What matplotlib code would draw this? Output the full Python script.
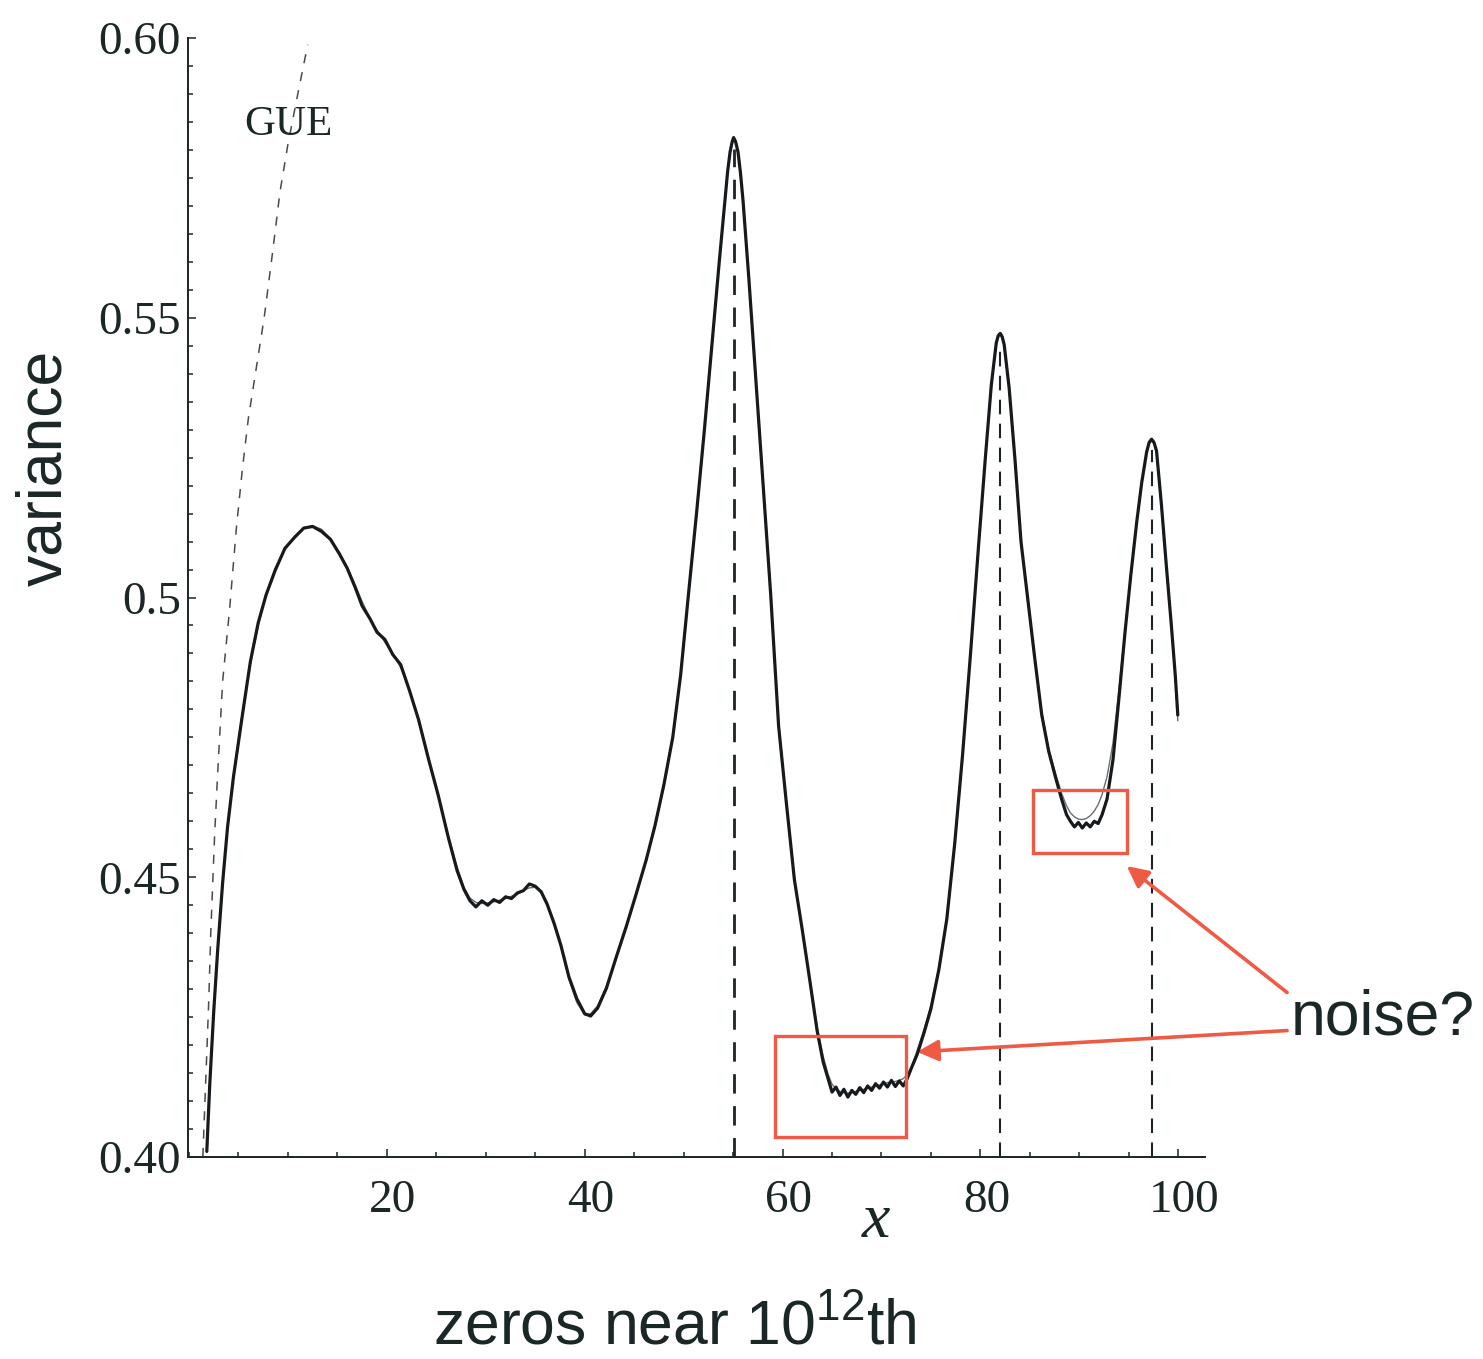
import matplotlib
matplotlib.use("Agg")

import matplotlib.pyplot as plt
import matplotlib.transforms as mtransforms
from matplotlib.patches import Rectangle
from matplotlib.ticker import MultipleLocator, FixedLocator, FixedFormatter
import numpy as np

# ------------------------------------------------------------
# DATA
# ------------------------------------------------------------
x_zeros = [
    1.8, 2.1, 2.5, 2.9, 3.4, 3.9, 4.5, 5.4, 6.2, 7.0,
    7.8, 8.7, 9.7, 10.7, 11.6, 12.5, 13.4, 14.3, 15.2, 16.0,
    16.8, 17.5, 18.3, 19.0, 19.8, 20.6, 21.4, 22.3, 23.2, 24.2,
    25.2, 26.2, 27.1, 27.8, 28.4, 29.0, 29.6, 30.2, 30.8, 31.4,
    32.0, 32.6, 33.2, 33.8, 34.4, 35.0, 35.6, 36.2, 36.9, 37.6,
    38.4, 39.2, 40.0, 40.6, 41.3, 42.2, 43.2, 44.2, 45.2, 46.2,
    47.1, 48.0, 48.9, 49.7, 50.5, 51.3, 52.1, 52.9, 53.6, 54.2,
    54.45, 54.7, 54.9, 55.05, 55.25, 55.5, 55.75, 56.0, 56.6, 57.3,
    58.0, 58.8, 59.6, 60.4,
    61.2, 62.0, 62.8, 63.5, 64.1, 64.6, 65.0, 65.4, 65.8, 66.2,
    66.6, 67.0, 67.4, 67.8, 68.2, 68.6, 69.0, 69.4, 69.8, 70.2,
    70.6, 71.0, 71.4, 71.8, 72.2, 72.6, 73.0, 73.6, 74.3, 75.0,
    75.8, 76.6, 77.4, 78.2, 79.0, 79.8, 80.5, 81.1, 81.6, 81.8,
    82.0, 82.2, 82.4, 82.9, 83.5, 84.1, 84.8, 85.5, 86.2, 86.9,
    87.6, 88.2,
    88.7, 89.1, 89.5, 89.9, 90.3, 90.7, 91.1, 91.5, 91.9, 92.3,
    92.8, 93.4, 94.0, 94.6, 95.2, 95.8, 96.3, 96.8, 97.05, 97.3,
    97.55, 97.8, 98.3, 98.8, 99.3, 99.7, 99.95,
]

# measured variance (noisy)
var_data = [
    0.4010, 0.4130, 0.4260, 0.4370, 0.4490, 0.4590, 0.4680, 0.4790, 0.4885, 0.4955,
    0.5005, 0.5048, 0.5088, 0.5108, 0.5124, 0.5127, 0.5118, 0.5104, 0.5078, 0.5052,
    0.5018, 0.4985, 0.4962, 0.4938, 0.4925, 0.4898, 0.4880, 0.4833, 0.4782, 0.4712,
    0.4646, 0.4572, 0.4512, 0.4478, 0.4458, 0.4447, 0.4458, 0.4450, 0.4460, 0.4455,
    0.4465, 0.4462, 0.4472, 0.4476, 0.4488, 0.4484, 0.4474, 0.4452, 0.4418, 0.4378,
    0.4322, 0.4283, 0.4256, 0.4252, 0.4266, 0.4302, 0.4358, 0.4412, 0.4470, 0.4530,
    0.4592, 0.4665, 0.4750, 0.4862, 0.5008, 0.5150, 0.5300, 0.5460, 0.5600, 0.5715,
    0.5762, 0.5797, 0.5814, 0.5822, 0.5815, 0.5796, 0.5758, 0.5710, 0.5568, 0.5390,
    0.5210, 0.5005, 0.4770, 0.4630,
    0.4495, 0.4405, 0.4310, 0.4225, 0.4170, 0.4140, 0.4116, 0.4125, 0.4110, 0.4121,
    0.4107, 0.4119, 0.4112, 0.4124, 0.4115, 0.4127, 0.4119, 0.4131, 0.4123, 0.4134,
    0.4125, 0.4137, 0.4126, 0.4136, 0.4127, 0.4140, 0.4158, 0.4183, 0.4222, 0.4265,
    0.4335, 0.4425, 0.4560, 0.4720, 0.4900, 0.5090, 0.5250, 0.5380, 0.5455, 0.5468,
    0.5472, 0.5466, 0.5452, 0.5375, 0.5245, 0.5100, 0.4995, 0.4890, 0.4790, 0.4725,
    0.4678, 0.4640,
    0.4612, 0.4600, 0.4590, 0.4598, 0.4588, 0.4597, 0.4590, 0.4600, 0.4596, 0.4612,
    0.4640, 0.4710, 0.4820, 0.4935, 0.5040, 0.5135, 0.5205, 0.5260, 0.5277, 0.5283,
    0.5277, 0.5262, 0.5165, 0.5055, 0.4950, 0.4860, 0.4790,
]

# smooth prediction
var_fit = [
    0.4010, 0.4135, 0.4265, 0.4375, 0.4495, 0.4590, 0.4685, 0.4795, 0.4880, 0.4950,
    0.5005, 0.5052, 0.5085, 0.5110, 0.5125, 0.5128, 0.5122, 0.5105, 0.5080, 0.5054,
    0.5022, 0.4993, 0.4962, 0.4942, 0.4920, 0.4900, 0.4875, 0.4835, 0.4780, 0.4715,
    0.4645, 0.4575, 0.4518, 0.4482, 0.4463, 0.4455, 0.4453, 0.4454, 0.4456, 0.4459,
    0.4462, 0.4466, 0.4470, 0.4476, 0.4481, 0.4482, 0.4472, 0.4450, 0.4415, 0.4375,
    0.4318, 0.4276, 0.4254, 0.4256, 0.4270, 0.4305, 0.4355, 0.4410, 0.4468, 0.4528,
    0.4590, 0.4662, 0.4752, 0.4865, 0.5005, 0.5152, 0.5302, 0.5458, 0.5598, 0.5712,
    0.5759, 0.5794, 0.5811, 0.5820, 0.5813, 0.5794, 0.5756, 0.5708, 0.5565, 0.5392,
    0.5212, 0.5008, 0.4773, 0.4632,
    0.4497, 0.4402, 0.4312, 0.4232, 0.4180, 0.4148, 0.4130, 0.4122, 0.4117, 0.4115,
    0.4114, 0.4115, 0.4117, 0.4119, 0.4121, 0.4123, 0.4125, 0.4127, 0.4129, 0.4131,
    0.4133, 0.4134, 0.4135, 0.4137, 0.4140, 0.4147, 0.4160, 0.4190, 0.4228, 0.4272,
    0.4340, 0.4428, 0.4562, 0.4722, 0.4902, 0.5088, 0.5248, 0.5378, 0.5452, 0.5466,
    0.5470, 0.5464, 0.5450, 0.5372, 0.5242, 0.5102, 0.4998, 0.4893, 0.4795, 0.4730,
    0.4685, 0.4650,
    0.4628, 0.4615, 0.4608, 0.4604, 0.4603, 0.4605, 0.4610, 0.4618, 0.4630, 0.4648,
    0.4680, 0.4740, 0.4835, 0.4940, 0.5042, 0.5135, 0.5203, 0.5258, 0.5275, 0.5280,
    0.5275, 0.5260, 0.5160, 0.5050, 0.4945, 0.4855, 0.4780,
]

# GUE reference curve
gue_x = [1.4, 1.7, 2.0, 2.2, 2.6, 2.9, 3.4, 4.1, 4.8, 5.4,
         6.0, 6.8, 7.6, 8.4, 9.2, 10.0, 11.0, 12.0]
gue_y = [0.400, 0.414, 0.428, 0.440, 0.4579, 0.4686, 0.485, 0.4978, 0.5126, 0.523,
         0.532, 0.541, 0.550, 0.561, 0.5725, 0.581, 0.590, 0.5988]

# x ranges in which the marked peaks sit
peak_windows = [(50, 60), (78, 86), (94, 100)]

y_ticks = [0.40, 0.45, 0.50, 0.55, 0.60]
y_tick_labels = ["0.40", "0.45", "0.5", "0.55", "0.60"]
x_ticks = [20, 40, 60, 80, 100]

# ------------------------------------------------------------
# STYLE
# ------------------------------------------------------------
text_col = "#1b2626"
red = "#ef5a45"
serif = ["Liberation Serif", "DejaVu Serif"]
sans = ["Liberation Sans", "DejaVu Sans"]
plt.rcParams["mathtext.fontset"] = "custom"
plt.rcParams["mathtext.rm"] = "Liberation Sans"
plt.rcParams["mathtext.it"] = "Liberation Sans"

fig = plt.figure(figsize=(14.83, 13.59), dpi=100)
ax = fig.add_axes([188 / 1483, 1 - 1157 / 1359, 1017 / 1483, 1119 / 1359])

xs = np.array(x_zeros)
ys = np.array(var_data)

# GUE dashed curve
ax.plot(gue_x, gue_y, color="#4a4a4a", lw=1.1, dashes=(6, 6))

# smooth and measured curves
ax.plot(xs, var_fit, color="#6a6e70", lw=1.0, zorder=3)
ax.plot(xs, ys, color="#161a1c", lw=2.3, zorder=4,
        solid_joinstyle="round", solid_capstyle="round")

# dashed lines under the peaks
for k, (lo, hi) in enumerate(peak_windows):
    sel = np.where((xs >= lo) & (xs <= hi))[0]
    i = sel[np.argmax(ys[sel])]
    lw = 2.0 if k == 0 else 1.5
    ax.plot([xs[i], xs[i]], [0.40, ys[i] - 0.002],
            color="#1b2426", lw=lw, dashes=(7, 4.5), zorder=2)

# red boxes around the noisy stretches
ax.add_patch(Rectangle((59.2, 0.4036), 13.3, 0.0180, fill=False,
                       edgecolor=red, lw=2.4, zorder=5))
ax.add_patch(Rectangle((85.3, 0.4543), 9.5, 0.0113, fill=False,
                       edgecolor=red, lw=2.4, zorder=5))

arrow_kw = dict(arrowstyle="-|>", color=red, lw=2.6, mutation_scale=32,
                shrinkA=0, shrinkB=0)
ax.annotate("", xy=(73.6, 0.4188), xytext=(111.0, 0.4226),
            arrowprops=arrow_kw, annotation_clip=False)
ax.annotate("", xy=(94.8, 0.4520), xytext=(111.0, 0.4294),
            arrowprops=arrow_kw, annotation_clip=False)

# ------------------------------------------------------------
# AXES
# ------------------------------------------------------------
ax.set_xlim(-0.1, 102.7)
ax.set_ylim(0.40, 0.60)
for side in ["top", "right"]:
    ax.spines[side].set_visible(False)
for side in ["left", "bottom"]:
    ax.spines[side].set_linewidth(1.4)
    ax.spines[side].set_color("#1b2426")

ax.xaxis.set_major_locator(FixedLocator(x_ticks))
ax.xaxis.set_minor_locator(MultipleLocator(5))
ax.yaxis.set_major_locator(FixedLocator(y_ticks))
ax.yaxis.set_major_formatter(FixedFormatter(y_tick_labels))
ax.yaxis.set_minor_locator(MultipleLocator(0.005))

ax.tick_params(which="both", direction="in", color="#1b2426", width=1.1)
ax.tick_params(which="major", length=6)
ax.tick_params(which="minor", length=3.5)
ax.tick_params(axis="x", which="major", pad=16)
ax.tick_params(axis="y", which="major", pad=5)

shift = mtransforms.ScaledTranslation(6 / 100, 0, fig.dpi_scale_trans)
for lab in ax.get_xticklabels():
    lab.set_transform(lab.get_transform() + shift)
for lab in ax.get_xticklabels() + ax.get_yticklabels():
    lab.set_family(serif)
    lab.set_fontsize(34)
    lab.set_color(text_col)

# ------------------------------------------------------------
# TEXT
# ------------------------------------------------------------
ax.text(10.0, 0.5845, "GUE", family=serif, fontsize=31, color=text_col,
        ha="center", va="center")
fig.text(876 / 1483, 1 - 1222 / 1359, "x", family=serif, style="italic",
         fontsize=46, color=text_col, ha="center", va="center")
fig.text(45 / 1483, 1 - 468 / 1359, "variance", family=sans, fontsize=45,
         color=text_col, rotation=90, ha="center", va="center")
fig.text(675 / 1483, 1 - 1328 / 1359, "zeros near 10$^{12}$th", family=sans,
         fontsize=45, color=text_col, ha="center", va="center")
fig.text(1291 / 1483, 1 - 1018 / 1359, "noise?", family=sans, fontsize=45,
         color=text_col, ha="left", va="center")

fig.savefig("out.png", dpi=100)
